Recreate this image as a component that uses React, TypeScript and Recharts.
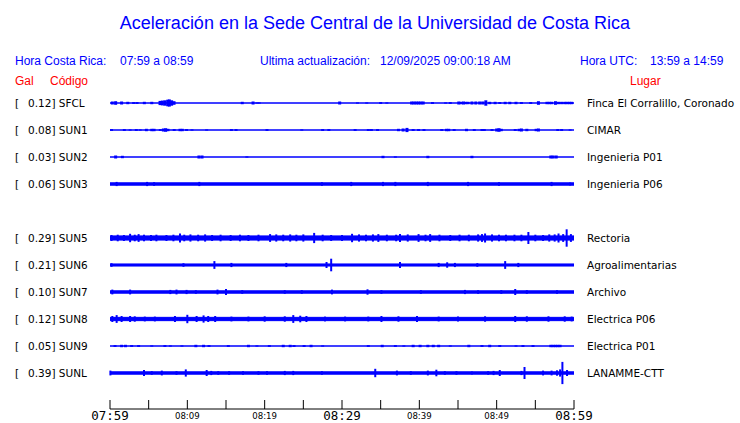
import { Area, ComposedChart, ErrorBar, Scatter, XAxis, YAxis } from 'recharts';

// minutes after 07:59, acceleration in Gal
const codes = ['SFCL', 'SUN1', 'SUN2', 'SUN3', 'SUN5', 'SUN6', 'SUN7', 'SUN8', 'SUN9', 'SUNL'];
const peakGal = ['0.12', '0.08', '0.03', '0.06', '0.29', '0.21', '0.10', '0.12', '0.05', '0.39'];
const places = [
  'Finca El Corralillo, Coronado',
  'CIMAR',
  'Ingenieria P01',
  'Ingenieria P06',
  'Rectoria',
  'Agroalimentarias',
  'Archivo',
  'Electrica P06',
  'Electrica P01',
  'LANAMME-CTT',
];
const rowSlot = [0, 1, 2, 3, 5, 6, 7, 8, 9, 10];
const noiseGal = [0, 0, 0, 0.04, 0.07, 0.035, 0.04, 0.055, 0, 0.04];

const tickMinutes = [0, 5, 10, 15, 20, 25, 30, 35, 40, 45, 50, 55, 60];
const tickLabels: Record<number, string> = {
  0: '07:59',
  10: '08:09',
  20: '08:19',
  30: '08:29',
  40: '08:39',
  50: '08:49',
  60: '08:59',
};

const sfclSpikes: [number, number][] = [
  [0.3, 0.05], [0.73, 0.06], [1.5, 0.05], [2.3, 0.04], [3.06, 0.03], [3.5, 0.03], [4.44, 0.04], [5.4, 0.04],
  [6.47, 0.07], [6.77, 0.08], [7.1, 0.09], [7.46, 0.11], [7.67, 0.12], [7.97, 0.09], [8.28, 0.06],
  [17.1, 0.04], [18.5, 0.05], [19.0, 0.02], [19.3, 0.02], [29.7, 0.05], [32.0, 0.02], [33.2, 0.02],
  [35.0, 0.03], [35.8, 0.02], [39.0, 0.05], [39.3, 0.05], [39.6, 0.05], [39.9, 0.05], [40.2, 0.05],
  [40.5, 0.05], [41.7, 0.03], [43.4, 0.02], [44.0, 0.03], [45.1, 0.05], [45.4, 0.04], [45.7, 0.05],
  [46.0, 0.04], [46.3, 0.04], [46.8, 0.05], [47.3, 0.05], [47.8, 0.05], [48.2, 0.05], [48.6, 0.09],
  [49.1, 0.04], [49.8, 0.04], [50.4, 0.03], [51.1, 0.04], [51.7, 0.04], [52.5, 0.04], [53.2, 0.03],
  [54.4, 0.03], [55.4, 0.06], [56.5, 0.04], [56.8, 0.04], [57.1, 0.04], [57.6, 0.06], [58.0, 0.04],
  [58.4, 0.04], [58.8, 0.04], [59.1, 0.04], [59.4, 0.04], [59.7, 0.04],
];
const sun1Spikes: [number, number][] = [
  [0.2, 0.03], [1.85, 0.03], [2.6, 0.02], [3.4, 0.03], [3.9, 0.02], [4.7, 0.04], [5.4, 0.04], [5.7, 0.04],
  [6.5, 0.03], [6.9, 0.05], [7.2, 0.06], [7.5, 0.04], [8.3, 0.03], [9.05, 0.04], [9.35, 0.04], [9.9, 0.03],
  [10.6, 0.02], [12.5, 0.02], [15.7, 0.03], [16.3, 0.03], [20.3, 0.03], [24.8, 0.02], [27.5, 0.03],
  [28.3, 0.03], [31.7, 0.03], [33.4, 0.03], [33.8, 0.03], [34.6, 0.03], [37.3, 0.04], [37.9, 0.05],
  [38.4, 0.07], [39.2, 0.03], [39.9, 0.03], [40.6, 0.03], [42.9, 0.03], [43.5, 0.04], [43.8, 0.04],
  [44.5, 0.03], [46.1, 0.04], [47.1, 0.03], [48.1, 0.03], [48.4, 0.03], [49.4, 0.03], [50.0, 0.05],
  [50.3, 0.06], [50.6, 0.04], [52.4, 0.03], [52.9, 0.04], [53.2, 0.05], [53.9, 0.04], [55.1, 0.04],
  [55.4, 0.05], [57.9, 0.03], [58.4, 0.03], [59.5, 0.02],
];
const sun2Spikes: [number, number][] = [
  [0.73, 0.05], [1.6, 0.04], [11.5, 0.05], [11.9, 0.05], [17.7, 0.02], [35.3, 0.04], [36.9, 0.02],
  [41.1, 0.04], [46.8, 0.04], [57.0, 0.05], [57.3, 0.05], [57.7, 0.05],
];
const sun3Spikes: [number, number][] = [
  [0.86, 0.07], [4.8, 0.07], [5.7, 0.06], [11.55, 0.07], [27.4, 0.06], [31.2, 0.07], [35.3, 0.07],
  [36.9, 0.07], [41.1, 0.07], [46.3, 0.07], [50.3, 0.06], [57.1, 0.07], [59.5, 0.05],
];
const sun5Spikes: [number, number][] = [
  [0.2, 0.1], [1.0, 0.11], [1.8, 0.1], [2.6, 0.14], [3.2, 0.11], [3.7, 0.13], [4.4, 0.11], [5.3, 0.1],
  [6.0, 0.11], [7.3, 0.1], [8.2, 0.11], [9.05, 0.15], [9.6, 0.11], [10.4, 0.12], [11.4, 0.11],
  [12.3, 0.12], [13.2, 0.1], [14.3, 0.11], [15.6, 0.1], [16.8, 0.11], [17.9, 0.1], [19.2, 0.11],
  [20.7, 0.13], [21.5, 0.12], [22.4, 0.11], [23.3, 0.12], [24.1, 0.11], [25.0, 0.12], [26.4, 0.17],
  [27.5, 0.11], [28.6, 0.1], [30.0, 0.1], [31.3, 0.14], [32.2, 0.12], [33.1, 0.11], [34.0, 0.12],
  [34.7, 0.13], [35.8, 0.11], [37.0, 0.11], [37.5, 0.13], [38.5, 0.12], [39.9, 0.13], [40.8, 0.11],
  [41.4, 0.13], [42.6, 0.11], [44.0, 0.1], [45.2, 0.11], [46.4, 0.11], [47.6, 0.12], [48.1, 0.13],
  [48.5, 0.15], [49.4, 0.12], [50.3, 0.11], [51.2, 0.11], [52.3, 0.11], [53.2, 0.11], [54.1, 0.2],
  [55.0, 0.11], [56.0, 0.1], [56.8, 0.12], [57.5, 0.12], [58.0, 0.15], [58.6, 0.13], [59.05, 0.29],
  [59.6, 0.13],
];
const sun6Spikes: [number, number][] = [
  [0.2, 0.06], [9.5, 0.06], [13.5, 0.13], [15.7, 0.07], [22.8, 0.07], [28.0, 0.1], [28.6, 0.21],
  [37.5, 0.1], [42.5, 0.07], [43.6, 0.09], [44.6, 0.07], [47.5, 0.06], [51.1, 0.13], [52.8, 0.07],
];
const sun7Spikes: [number, number][] = [
  [0.3, 0.08], [2.6, 0.08], [7.8, 0.07], [8.6, 0.08], [9.9, 0.07], [11.1, 0.06], [13.9, 0.08],
  [15.0, 0.1], [17.1, 0.06], [22.6, 0.06], [24.8, 0.06], [28.7, 0.08], [33.3, 0.09], [35.1, 0.06],
  [40.2, 0.06], [45.9, 0.07], [47.6, 0.06], [50.6, 0.06], [52.4, 0.1], [53.9, 0.06], [57.8, 0.06],
];
const sun8Spikes: [number, number][] = [
  [0.3, 0.1], [0.86, 0.13], [1.5, 0.1], [2.6, 0.1], [3.2, 0.09], [4.5, 0.08], [5.8, 0.08], [8.4, 0.1],
  [10.0, 0.14], [11.2, 0.1], [12.1, 0.12], [12.7, 0.1], [13.6, 0.1], [15.7, 0.08], [17.9, 0.08],
  [20.0, 0.09], [22.6, 0.09], [23.7, 0.13], [24.6, 0.11], [25.4, 0.1], [27.8, 0.08], [30.4, 0.08],
  [33.4, 0.08], [35.1, 0.1], [37.3, 0.09], [39.7, 0.1], [42.5, 0.08], [45.0, 0.08], [48.5, 0.09],
  [52.4, 0.1], [53.9, 0.09], [56.7, 0.09], [58.8, 0.09], [59.7, 0.08],
];
const sun9Spikes: [number, number][] = [
  [0.65, 0.03], [1.5, 0.04], [2.0, 0.04], [2.8, 0.03], [3.7, 0.03], [5.4, 0.02], [7.1, 0.03],
  [7.8, 0.02], [9.3, 0.02], [11.1, 0.04], [12.1, 0.04], [12.8, 0.03], [15.3, 0.03], [17.9, 0.04],
  [19.0, 0.02], [20.6, 0.03], [22.4, 0.04], [23.3, 0.04], [23.8, 0.03], [25.1, 0.03], [26.0, 0.04],
  [27.5, 0.02], [33.4, 0.03], [35.2, 0.04], [36.9, 0.03], [38.0, 0.02], [39.2, 0.04], [40.1, 0.04],
  [41.1, 0.04], [41.8, 0.04], [42.5, 0.04], [44.0, 0.02], [46.4, 0.04], [48.1, 0.03], [49.1, 0.04],
  [50.4, 0.03], [52.5, 0.02], [53.4, 0.03], [54.7, 0.03], [57.0, 0.04], [57.3, 0.04], [57.6, 0.04],
  [57.9, 0.04], [58.2, 0.04],
];
const sunlSpikes: [number, number][] = [
  [0.05, 0.08], [4.4, 0.1], [5.4, 0.06], [6.7, 0.08], [8.6, 0.06], [9.8, 0.12], [12.5, 0.1], [13.1, 0.07],
  [14.0, 0.06], [15.4, 0.06], [17.2, 0.06], [19.2, 0.06], [20.3, 0.06], [22.6, 0.07], [23.7, 0.07],
  [27.4, 0.06], [34.3, 0.14], [37.1, 0.08], [38.9, 0.06], [41.1, 0.08], [42.2, 0.11], [43.3, 0.06],
  [44.8, 0.06], [46.8, 0.05], [48.9, 0.06], [49.6, 0.07], [50.4, 0.1], [53.2, 0.07], [53.6, 0.2],
  [56.0, 0.08], [57.1, 0.08], [57.8, 0.09], [58.2, 0.12], [58.5, 0.37], [59.1, 0.1],
];
const spikes = [
  sfclSpikes, sun1Spikes, sun2Spikes, sun3Spikes, sun5Spikes,
  sun6Spikes, sun7Spikes, sun8Spikes, sun9Spikes, sunlSpikes,
];

const BLUE = '#0000ff';
const ROW_PX = 27;
const GAL_PX = 30;
const PLOT_TOP = 89.5;
const PLOT_BOTTOM = 409;
const Y_MAX = (PLOT_BOTTOM - PLOT_TOP) / GAL_PX;
const rowCenter = (slot: number) => (ROW_PX / 2 + ROW_PX * slot) / GAL_PX;

const bandData = [0, 60].map((t) => {
  const row: Record<string, number | number[]> = { t };
  codes.forEach((c, i) => {
    const y = rowCenter(rowSlot[i]);
    row[c] = [y - noiseGal[i], y + noiseGal[i]];
  });
  return row;
});

function TimeTick(props: any) {
  const { x, y, payload } = props;
  const label = tickLabels[payload.value];
  const big = payload.value % 30 === 0;
  return (
    <g>
      <line x1={x} x2={x} y1={y - 9} y2={y} stroke="#000" strokeWidth={1} />
      {label && (
        <text
          x={x}
          y={y + (big ? 11 : 9.5)}
          textAnchor="middle"
          fill="#000"
          fontFamily={big ? 'DejaVu Sans Mono, monospace' : 'DejaVu Sans, sans-serif'}
          fontSize={big ? 12.5 : 8.6}
        >
          {label}
        </text>
      )}
    </g>
  );
}

const noShape = () => <g />;

export default function App() {
  const hdr = { fontFamily: 'Liberation Sans, Arial, sans-serif', fontSize: 12, fill: BLUE };
  const red = { fontFamily: 'Liberation Sans, Arial, sans-serif', fontSize: 12, fill: '#ff0000' };
  const lbl = { fontFamily: 'DejaVu Sans, sans-serif', fontSize: 10.5, fill: '#000' };
  return (
    <div style={{ position: 'absolute', left: 0, top: 0, width: 740, height: 423, background: '#fff' }}>
      <ComposedChart
        width={740}
        height={423}
        data={bandData}
        margin={{ top: PLOT_TOP, right: 740 - 574, bottom: 0, left: 110 }}
      >
        <XAxis
          dataKey="t"
          type="number"
          domain={[0, 60]}
          ticks={tickMinutes}
          tick={<TimeTick />}
          tickLine={false}
          tickSize={0}
          tickMargin={0}
          height={423 - PLOT_BOTTOM}
          axisLine={{ stroke: '#000', strokeWidth: 1 }}
          interval={0}
        />
        <YAxis type="number" domain={[0, Y_MAX]} reversed hide width={0} allowDataOverflow />
        {codes.map((c) => (
          <Area
            key={c}
            dataKey={c}
            type="linear"
            stroke={BLUE}
            strokeWidth={1}
            fill={BLUE}
            fillOpacity={1}
            dot={false}
            activeDot={false}
            isAnimationActive={false}
          />
        ))}
        {codes.map((c, i) => (
          <Scatter
            key={`s-${c}`}
            data={spikes[i].map(([t, a]) => ({ t, y: rowCenter(rowSlot[i]), err: a }))}
            dataKey="y"
            shape={noShape}
            isAnimationActive={false}
          >
            <ErrorBar
              dataKey="err"
              direction="y"
              width={0}
              stroke={BLUE}
              strokeWidth={noiseGal[i] === 0 ? 3 : 2}
              isAnimationActive={false}
            />
          </Scatter>
        ))}
      </ComposedChart>
      <svg width={740} height={423} style={{ position: 'absolute', left: 0, top: 0, pointerEvents: 'none' }}>
        <text x={375} y={29} textAnchor="middle" fontFamily="Liberation Sans, Arial, sans-serif" fontSize={18} fill={BLUE}>
          Aceleración en la Sede Central de la Universidad de Costa Rica
        </text>
        <text x={15} y={65} {...hdr}>Hora Costa Rica:</text>
        <text x={120} y={65} {...hdr}>07:59 a 08:59</text>
        <text x={260} y={65} {...hdr}>Ultima actualización:</text>
        <text x={380} y={65} {...hdr}>12/09/2025 09:00:18 AM</text>
        <text x={580} y={65} {...hdr}>Hora UTC:</text>
        <text x={650} y={65} {...hdr}>13:59 a 14:59</text>
        <text x={15} y={85} {...red}>Gal</text>
        <text x={50} y={85} {...red}>Código</text>
        <text x={630} y={85} {...red}>Lugar</text>
        {codes.map((c, i) => {
          const y = PLOT_TOP + rowCenter(rowSlot[i]) * GAL_PX + 4;
          return (
            <g key={`l-${c}`}>
              <text x={15} y={y} {...lbl}>[</text>
              <text x={28} y={y} {...lbl}>{`${peakGal[i]}] ${c}`}</text>
              <text x={587} y={y} {...lbl}>{places[i]}</text>
            </g>
          );
        })}
      </svg>
    </div>
  );
}
